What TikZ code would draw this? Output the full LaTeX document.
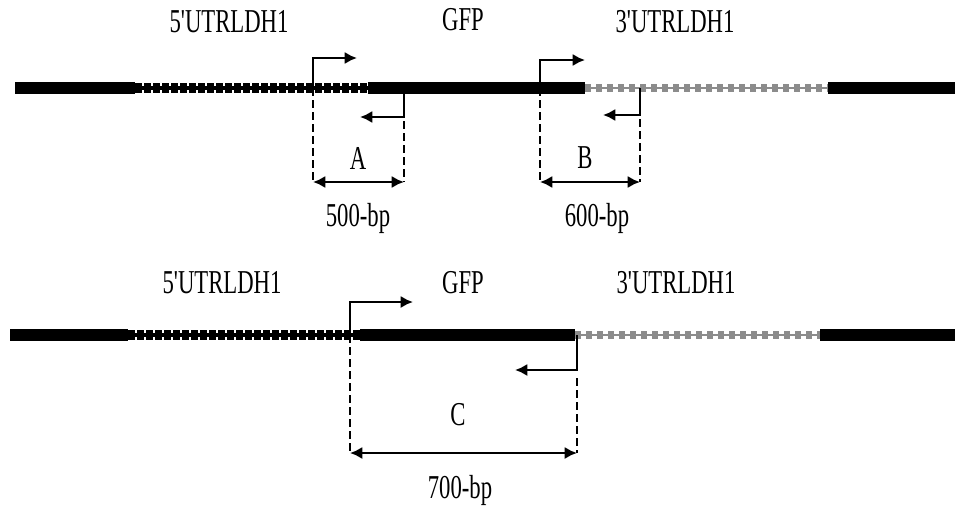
\documentclass[tikz,border=0pt]{standalone}
\usepackage{fontspec}
\setmainfont{Liberation Serif}
\usetikzlibrary{arrows.meta}
\tikzset{
  gene/.style={line width=12*0.02cm},
  utrfive/.style={line width=10*0.02cm,dash pattern=on 7*0.02cm off 2*0.02cm},
  utrthree/.style={line width=8*0.02cm,black!45,dash pattern=on 6*0.02cm off 5*0.02cm},
  primer/.style={line width=1.5pt,-{Latex[length=7pt,width=7pt]}},
  guide/.style={line width=0.9pt,dash pattern=on 8*0.02cm off 4*0.02cm},
  span/.style={line width=1.5pt,{Latex[length=7pt,width=7pt]}-{Latex[length=7pt,width=7pt]}},
  lbl/.style={font=\fontsize{19}{19}\selectfont,inner sep=0pt}
}
\newcommand{\cond}[1]{\scalebox{0.68}[1]{#1}}
\begin{document}
\begin{tikzpicture}[x=0.02cm,y=-0.02cm]
\useasboundingbox (0,0) rectangle (957,507);
% construct 1
\draw[gene] (15,88) -- (135,88);
\draw[line width=4*0.02cm] (135,88) -- (368,88);
\draw[utrfive] (135,88) -- (368,88);
\draw[gene] (368,88) -- (585,88);
\draw[black!45,line width=1pt] (585,88) -- (828,88);
\draw[utrthree] (585,88) -- (828,88);
\draw[gene] (828,88) -- (955,88);
\node[lbl] (utr5a) at (229,22) {\cond{5\textquotesingle UTRLDH1}};
\node[lbl] (gfpa) at (463,20) {\cond{GFP}};
\node[lbl] (utr3a) at (675,22) {\cond{3\textquotesingle UTRLDH1}};

% primers A
\coordinate (fa) at (313,88);
\coordinate (ra) at (404,88);
\draw[primer] (fa) -- (313,58) -- (357,58);
\draw[primer] (ra) -- (404,117) -- (360,117);
\draw[guide] (fa) -- (313,182);
\draw[guide] (404,121) -- (404,182);
\draw[span] (313,182) -- (404,182);
\node[lbl] (prodA) at (358,158) {\cond{A}};
\node[lbl] (lenA) at (358,218) {\cond{500-bp}};

% primers B
\coordinate (fb) at (540,88);
\coordinate (rb) at (640,88);
\draw[primer] (fb) -- (540,60) -- (585,60);
\draw[primer] (rb) -- (640,115) -- (603,115);
\draw[guide] (fb) -- (540,182);
\draw[guide] (640,119) -- (640,182);
\draw[span] (540,182) -- (640,182);
\node[lbl] (prodB) at (585,158) {\cond{B}};
\node[lbl] (lenB) at (597,218) {\cond{600-bp}};

% construct 2
\draw[gene] (10,335) -- (128,335);
\draw[line width=4*0.02cm] (128,335) -- (360,335);
\draw[utrfive] (128,335) -- (360,335);
\draw[gene] (360,335) -- (575,335);
\draw[black!45,line width=1pt] (575,335) -- (820,335);
\draw[utrthree] (575,335) -- (820,335);
\draw[gene] (820,335) -- (955,335);
\node[lbl] (utr5b) at (222,283) {\cond{5\textquotesingle UTRLDH1}};
\node[lbl] (gfpb) at (463,283) {\cond{GFP}};
\node[lbl] (utr3b) at (676,283) {\cond{3\textquotesingle UTRLDH1}};

% primers C
\coordinate (fc) at (350,335);
\coordinate (rc) at (577,335);
\draw[primer] (fc) -- (350,302) -- (413,302);
\draw[primer] (rc) -- (577,370) -- (515,370);
\draw[guide] (fc) -- (350,453);
\draw[guide] (577,378) -- (577,453);
\draw[span] (350,453) -- (577,453);
\node[lbl] (prodC) at (458,415) {\cond{C}};
\node[lbl] (lenC) at (460,490) {\cond{700-bp}};
\end{tikzpicture}
\end{document}
